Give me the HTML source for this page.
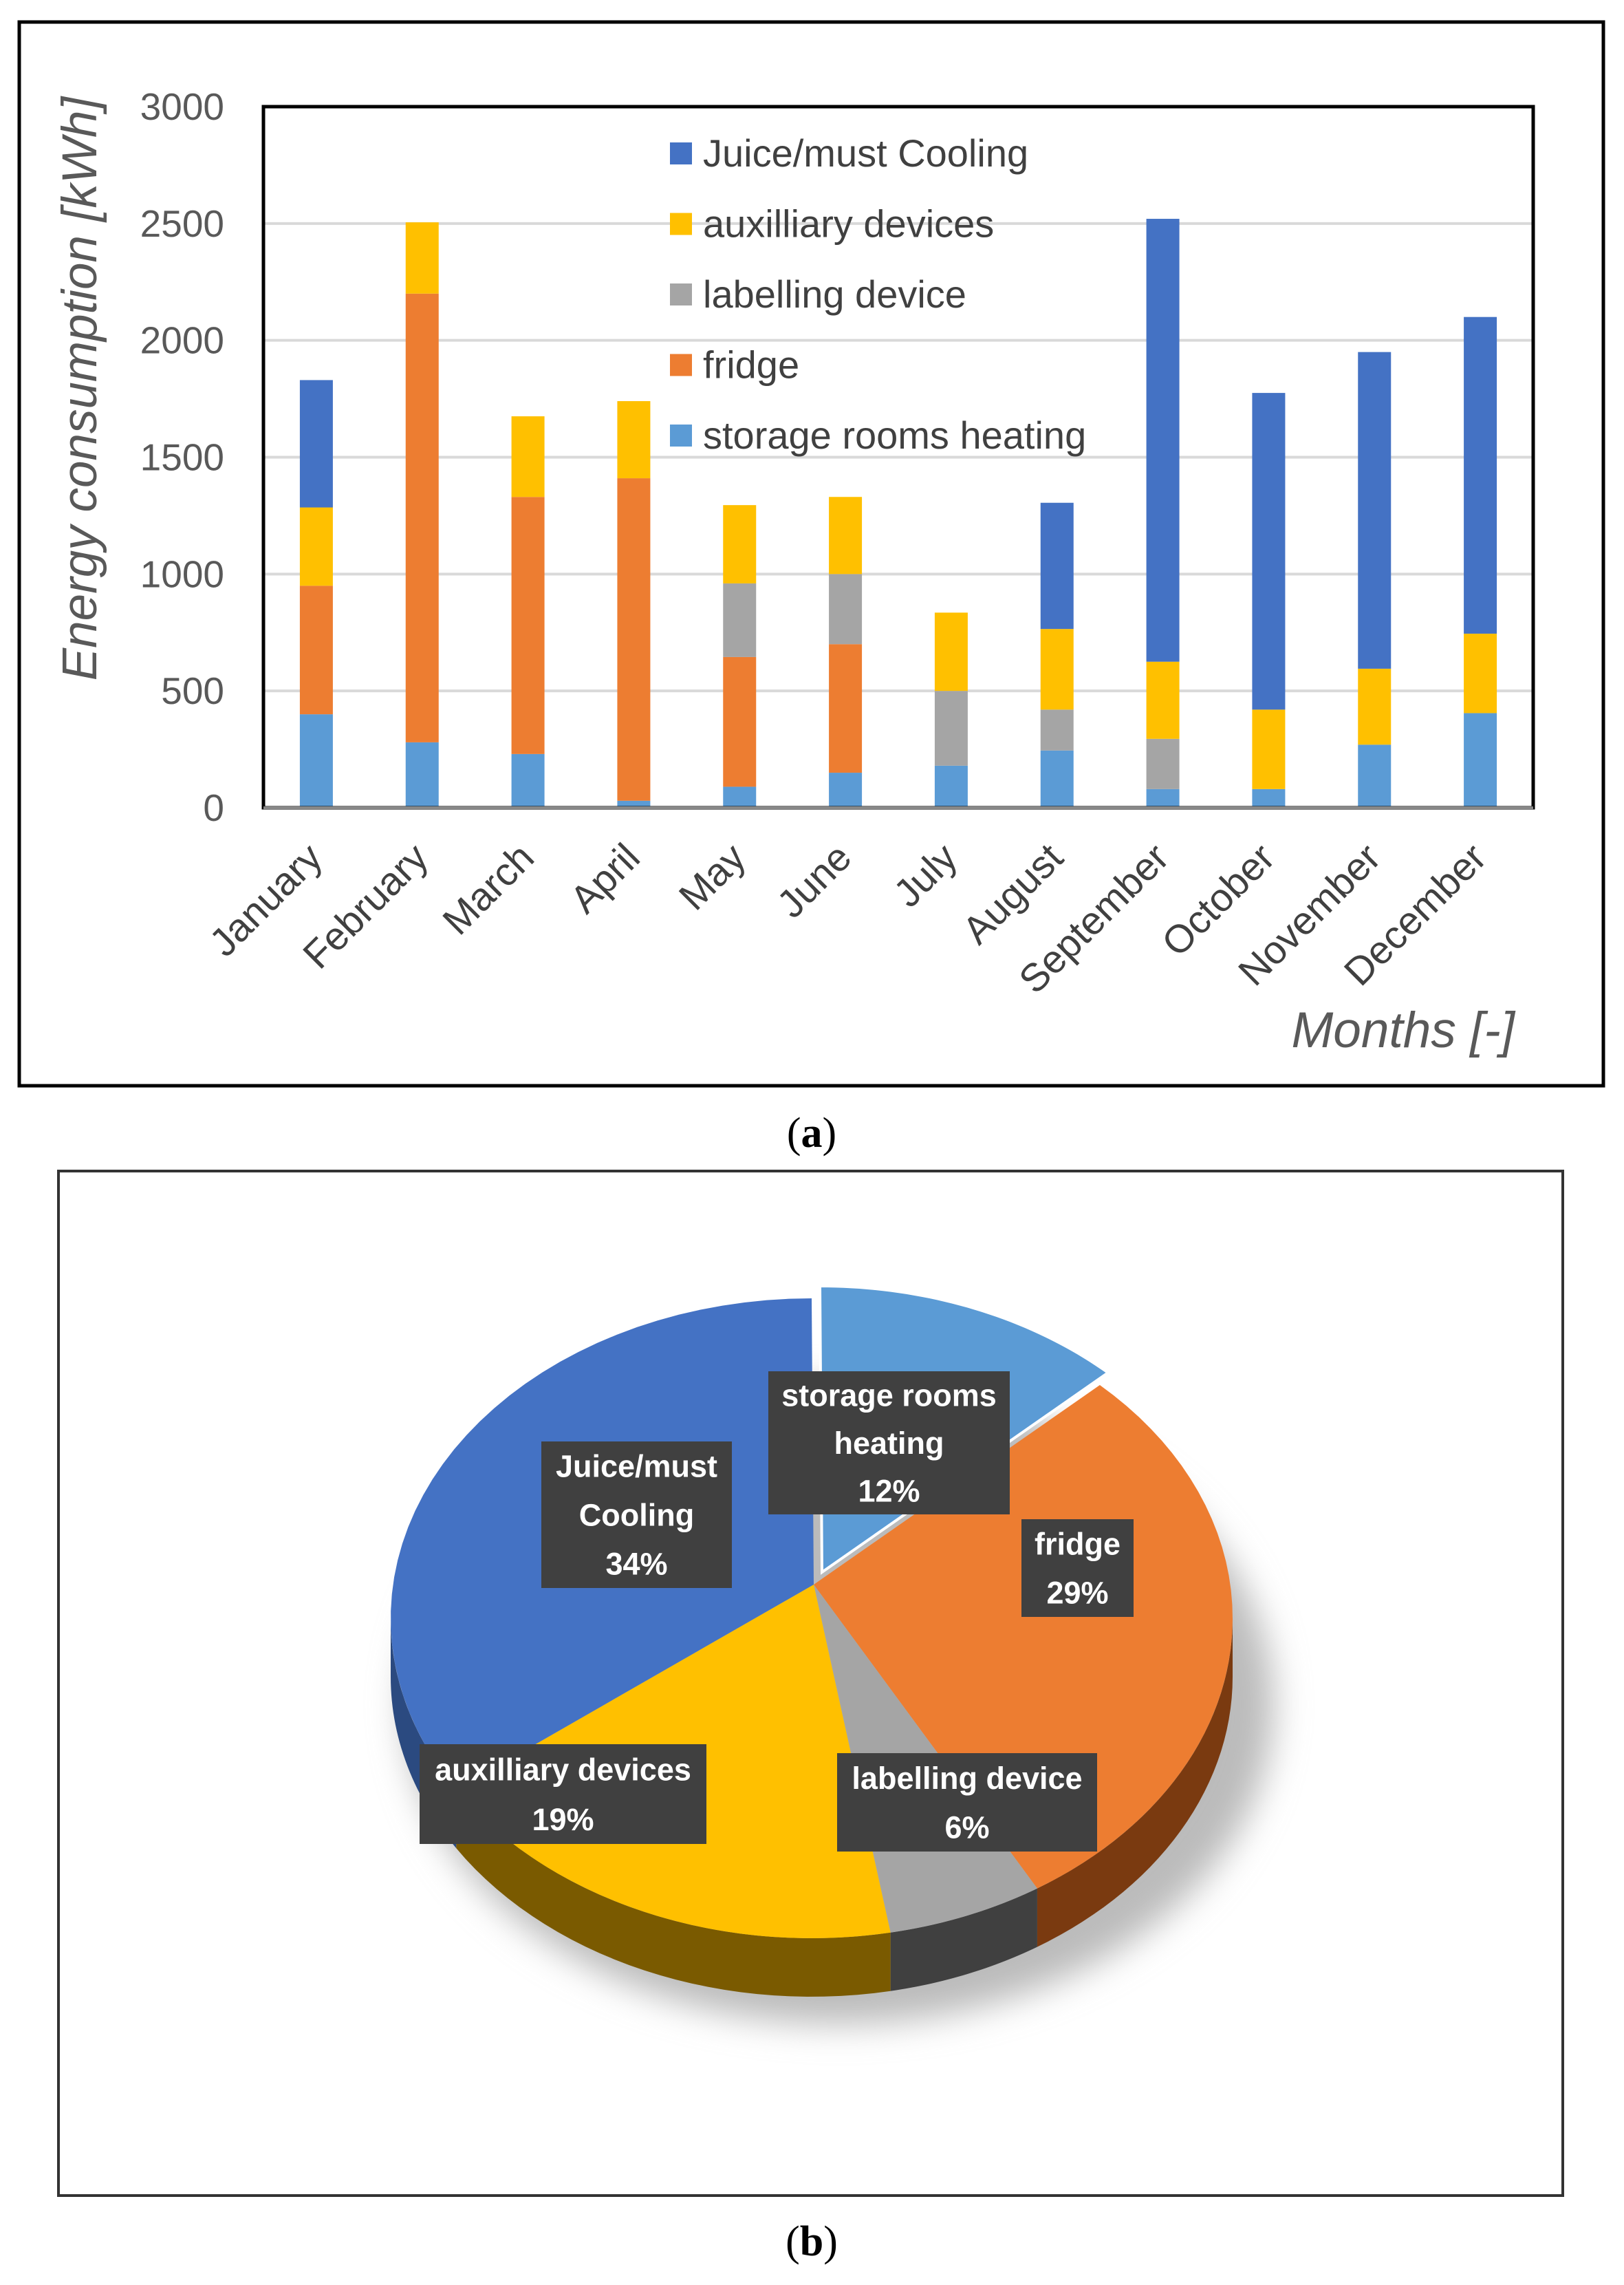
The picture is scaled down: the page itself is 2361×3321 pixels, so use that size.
<!DOCTYPE html>
<html><head><meta charset="utf-8"><style>
html,body{margin:0;padding:0;background:#fff}
body{width:2361px;height:3321px;position:relative;overflow:hidden;font-family:"Liberation Sans",sans-serif}
svg{position:absolute;left:0;top:0}
</style></head><body>
<svg id="s" width="2361" height="3321">
<rect x="28" y="32" width="2303" height="1546" fill="none" stroke="#000" stroke-width="5"/>
<rect x="85" y="1702" width="2187" height="1489" fill="none" stroke="#333" stroke-width="4"/>
<text x="1180" y="1667" font-family="Liberation Serif,serif" font-size="62" text-anchor="middle">(<tspan font-weight="bold">a</tspan>)</text>
<text x="1180" y="3278" font-family="Liberation Serif,serif" font-size="62" text-anchor="middle">(<tspan font-weight="bold">b</tspan>)</text>
<g id="bar"></g>
<g id="pie"></g>
</svg>
<script>
const months=["January","February","March","April","May","June","July","August","September","October","November","December"];
const seriesNames=["storage rooms heating","fridge","labelling device","auxilliary devices","Juice/must Cooling"];
const seriesColors=["#5b9bd5","#ed7d31","#a5a5a5","#ffc000","#4472c4"];
const storage=[400,280,230,30,90,150,180,245,80,80,270,405];
const fridge=[550,1920,1100,1380,555,550,0,0,0,0,0,0];
const labelling=[0,0,0,0,315,300,320,175,215,0,0,0];
const auxiliary=[335,305,345,330,335,330,335,345,330,340,325,340];
const juice=[545,0,0,0,0,0,0,540,1895,1355,1355,1355];
const yTicks=[0,500,1000,1500,2000,2500,3000];
const pieLabels=["storage rooms heating","fridge","labelling device","auxilliary devices","Juice/must Cooling"];
const piePct=[12,29,6,19,34];

const NS="http://www.w3.org/2000/svg";
function mk(tag,attrs,parent,txt){const e=document.createElementNS(NS,tag);for(const k in attrs)e.setAttribute(k,attrs[k]);if(txt!==undefined)e.textContent=txt;parent.appendChild(e);return e;}
const bar=document.getElementById('bar');
const L=383,R=2229,T=155,B=1174;
const y=v=>B-(v/3000)*(B-T);
const band=(R-L)/months.length;
const x=i=>L+band*(i+0.5);
yTicks.forEach(t=>{
  if(t>0){const g=mk('line',{x1:L,x2:R,y1:y(t),y2:y(t),stroke:'#d9d9d9','stroke-width':4},bar);
  
  }
  const lb=mk('text',{x:326,y:y(t)+19,'font-size':55,fill:'#595959','text-anchor':'end'},bar,String(t));
  
  
});
const all=[storage,fridge,labelling,auxiliary,juice];
months.forEach((m,i)=>{
  let acc=0;
  all.forEach((s,k)=>{
    const v=s[i]; if(v<=0)return;
    const r=mk('rect',{x:x(i)-24,width:48,y:y(acc+v),height:y(acc)-y(acc+v),fill:seriesColors[k]},bar);
    
    
    acc+=v;
  });
  const tx=x(i)+12, ty=1250;
  const lb=mk('text',{x:tx,y:ty,'font-size':57,fill:'#404040','text-anchor':'end',transform:`rotate(-45 ${tx} ${ty})`},bar,m);
  
  
});
mk('rect',{x:L,y:T,width:R-L,height:B-T,fill:'none',stroke:'#000','stroke-width':5},bar);
mk('line',{x1:L,x2:R,y1:B,y2:B,stroke:'#888','stroke-width':4},bar);
const yt=mk('text',{x:0,y:0,'font-size':71,'font-style':'italic',fill:'#595959','text-anchor':'middle',transform:'translate(140 565) rotate(-90)'},bar,'Energy consumption [kWh]');


const xt=mk('text',{x:2202,y:1522,'font-size':73,'font-style':'italic',fill:'#595959','text-anchor':'end'},bar,'Months [-]');


[4,3,2,1,0].forEach((k,j)=>{
  const cy=223+j*102.5;
  const sq=mk('rect',{x:974,y:cy-16,width:32,height:32,fill:seriesColors[k]},bar);
  
  
  const t=mk('text',{x:1022,y:cy+19,'font-size':56,fill:'#404040'},bar,seriesNames[k]);
  
  
});

// pie
const pie=document.getElementById('pie');
const ax=1183,ay=2303,cx=1180,cy=2352,rx=612,ry=465,D=85;
const pt=(t,dy)=>[cx+rx*Math.sin(t*Math.PI/180),cy-ry*Math.cos(t*Math.PI/180)+(dy||0)];
const dark=["#2e5f8f","#7a3a10","#404040","#7a5a00","#2b4a80"];
const defs=mk('defs',{},pie);
const f=mk('filter',{id:'sh',x:'-20%',y:'-20%',width:'140%',height:'140%'},defs);
mk('feGaussianBlur',{stdDeviation:25},f);
mk('ellipse',{cx:cx+40,cy:cy+D+40,rx:rx+20,ry:ry,fill:'#bbb',filter:'url(#sh)'},pie);
let angles=[0];piePct.forEach(p=>angles.push(angles[angles.length-1]+p*3.6));
piePct.forEach((p,k)=>{
  const a1=Math.max(angles[k],90),a2=Math.min(angles[k+1],270);
  if(a2<=a1)return;
  let d='';const n=30;
  for(let i=0;i<=n;i++){const [px,py]=pt(a1+(a2-a1)*i/n);d+=(i?'L':'M')+px+' '+py;}
  for(let i=n;i>=0;i--){const [px,py]=pt(a1+(a2-a1)*i/n,D);d+='L'+px+' '+py;}
  const s=mk('path',{d:d+'Z',fill:dark[k]},pie);
  
  
});
piePct.forEach((p,k)=>{
  const a1=angles[k],a2=angles[k+1];const off=k===0?[12,-18]:[0,0];
  let d=`M${ax+off[0]} ${ay+off[1]}`;const n=40;
  for(let i=0;i<=n;i++){const [px,py]=pt(a1+(a2-a1)*i/n);d+='L'+(px+off[0])+' '+(py+off[1]);}
  const s=mk('path',{d:d+'Z',fill:seriesColors[k],stroke:k===0?'#fff':'none','stroke-width':4},pie);
  
  
});
const boxes=[[1117,1993,351,208,["storage rooms","heating"]],[1485,2208,163,142,["fridge"]],[1217,2548,378,143,["labelling device"]],[610,2535,417,145,["auxilliary devices"]],[787,2095,277,213,["Juice/must","Cooling"]]];
boxes.forEach((b,k)=>{
  const g=mk('g',{},pie);
  
  
  mk('rect',{x:b[0],y:b[1],width:b[2],height:b[3],fill:'#404040'},g);
  const lines=b[4].concat([piePct[k]+'%']);
  const lh=b[3]/lines.length;
  lines.forEach((ln,j)=>mk('text',{x:b[0]+b[2]/2,y:b[1]+lh*(j+0.5)+16,'font-size':45,'font-weight':'bold',fill:'#fff','text-anchor':'middle'},g,ln));
});
</script>
</body></html>
